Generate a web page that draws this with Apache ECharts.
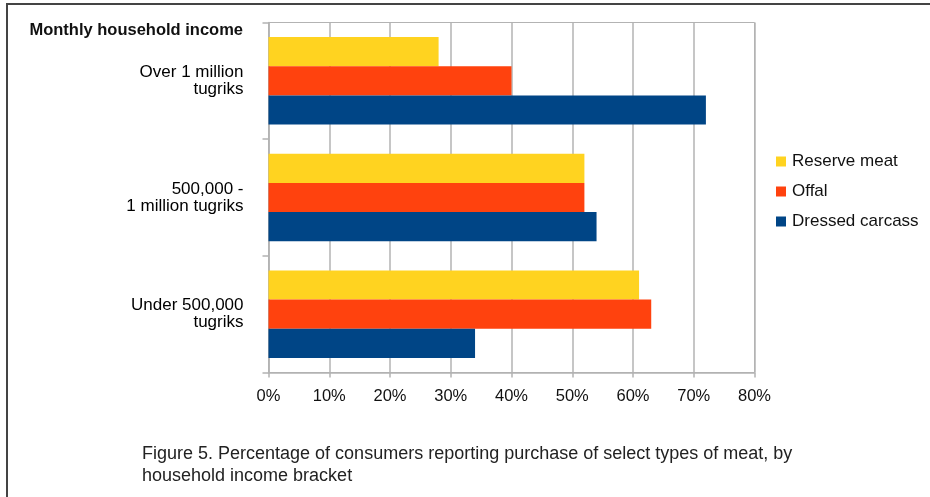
<!DOCTYPE html>
<html>
<head>
<meta charset="utf-8">
<script src="https://cdn.jsdelivr.net/npm/echarts@6/dist/echarts.min.js"></script>
<style>
  html, body { margin: 0; padding: 0; background: #fff; }
  #chart { width: 930px; height: 497px; }
</style>
</head>
<body>
<div id="chart"></div>
<script>
// Income brackets, listed bottom to top along the category axis
const categories = ['Under 500,000\ntugriks', '500,000 -\n1 million tugriks', 'Over 1 million\ntugriks'];

// Share of consumers (%) buying each kind of meat, per bracket
const reserveMeat    = [61, 52, 28];
const offal          = [63, 52, 40];
const dressedCarcass = [34, 54, 72];

const seriesNames = ['Reserve meat', 'Offal', 'Dressed carcass'];
const seriesColors = ['#ffd320', '#ff420e', '#004586'];

const xTicks = { min: 0, max: 80, interval: 10 };

const font = '"Liberation Sans", Arial, sans-serif';
const gridColor = '#b3b3b3';

const chart = echarts.init(document.getElementById('chart'), null, { renderer: 'canvas' });

const makeSeries = (name, data, color) => ({
  name: name,
  type: 'bar',
  data: data,
  barCategoryGap: '25%',
  barGap: '0%',
  itemStyle: { color: color },
  emphasis: { disabled: true },
  animation: false
});

chart.setOption({
  animation: false,
  textStyle: { fontFamily: font },
  grid: {
    left: 268.5, top: 22.5, width: 486, height: 350,
    show: true, borderColor: gridColor, borderWidth: 1, backgroundColor: 'transparent'
  },
  legend: {
    orient: 'vertical',
    left: 776, top: 153, padding: 0,
    itemWidth: 10, itemHeight: 10, itemGap: 13,
    icon: 'rect',
    data: seriesNames,
    textStyle: { fontFamily: font, fontSize: 17, color: '#111', padding: [0, 0, 0, 1] }
  },
  xAxis: {
    type: 'value',
    min: xTicks.min, max: xTicks.max, interval: xTicks.interval,
    axisLine: { show: true, lineStyle: { color: gridColor, width: 1.5 } },
    axisTick: { show: true, length: 5, lineStyle: { color: gridColor, width: 1.5 } },
    splitLine: { show: true, lineStyle: { color: gridColor, width: 1.5 } },
    axisLabel: {
      formatter: '{value}%', margin: 15,
      fontFamily: font, fontSize: 16.5, color: '#111'
    }
  },
  yAxis: {
    type: 'category',
    data: categories,
    axisLine: { show: true, lineStyle: { color: gridColor, width: 1.5 } },
    axisTick: { show: true, length: 6, lineStyle: { color: gridColor, width: 1.5 } },
    axisLabel: {
      margin: 25, fontFamily: font, fontSize: 17, color: '#000',
      align: 'right', lineHeight: 17
    }
  },
  graphic: [
    {
      type: 'rect', silent: true,
      shape: { x: 7, y: 4, width: 940, height: 520 },
      style: { fill: 'none', stroke: '#444', lineWidth: 2 }
    },
    {
      type: 'text', silent: true,
      right: 930 - 243, top: 22,
      style: {
        text: 'Monthly household income',
        fontFamily: font, fontSize: 16.5, fontWeight: 'bold', fill: '#111',
        textAlign: 'right'
      }
    },
    {
      type: 'text', silent: true,
      left: 142, top: 443,
      style: {
        text: 'Figure 5. Percentage of consumers reporting purchase of select types of meat, by\nhousehold income bracket',
        fontFamily: font, fontSize: 18, lineHeight: 22, fill: '#222'
      }
    }
  ],
  series: [
    makeSeries(seriesNames[0], reserveMeat, seriesColors[0]),
    makeSeries(seriesNames[1], offal, seriesColors[1]),
    makeSeries(seriesNames[2], dressedCarcass, seriesColors[2])
  ]
});
</script>
</body>
</html>
